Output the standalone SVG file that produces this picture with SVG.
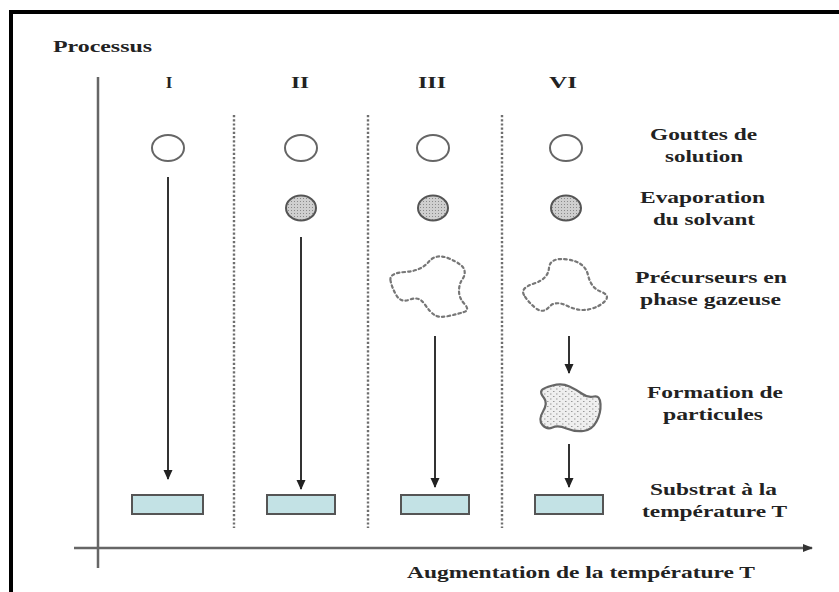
<svg xmlns="http://www.w3.org/2000/svg" width="839" height="592" viewBox="0 0 839 592">
<style>
.t{font-family:"Liberation Serif","Times New Roman",serif;font-weight:bold;font-size:16px;fill:#222}
.num{font-family:"Liberation Serif","Times New Roman",serif;font-weight:bold;font-size:17px;fill:#222;text-anchor:middle}
.drop{fill:none;stroke:#666;stroke-width:2}
.evap{fill:url(#dots);stroke:#555;stroke-width:2}
.gas{fill:none;stroke:#777;stroke-width:2.2;stroke-dasharray:2.5 3;stroke-linecap:round}
.part{fill:url(#pdots);stroke:#666;stroke-width:2.2}
.sub{fill:#c3e2e5;stroke:#555;stroke-width:2}
.sep{stroke:#6f6f6f;stroke-width:2.4;stroke-dasharray:2.2 2}
.arr{stroke:#333;stroke-width:2;fill:none;marker-end:url(#ah)}
.axis{stroke:#666;stroke-width:2.5;fill:none}
</style>
<defs>
<pattern id="dots" width="3" height="3" patternUnits="userSpaceOnUse">
<rect width="3" height="3" fill="#cfcfcf"/>
<rect width="1" height="1" fill="#8a8a8a"/>
</pattern>
<pattern id="pdots" width="6" height="5" patternUnits="userSpaceOnUse">
<rect width="6" height="5" fill="#efefef"/>
<rect x="1" y="1" width="1.5" height="1" fill="#999"/>
<rect x="4" y="3.5" width="1.5" height="1" fill="#999"/>
</pattern>
<marker id="ah" markerUnits="userSpaceOnUse" markerWidth="10" markerHeight="10" viewBox="0 0 10 10" refX="9" refY="5" orient="auto">
<path d="M0,0.5 L10,5 L0,9.5 Z" fill="#222"/>
</marker>
<marker id="axh" markerUnits="userSpaceOnUse" markerWidth="10" markerHeight="10" viewBox="0 0 10 10" refX="9" refY="5" orient="auto">
<path d="M0,1 L10,5 L0,9 Z" fill="#333"/>
</marker>
</defs>
<rect width="839" height="592" fill="#ffffff"/>
<rect x="9" y="10" width="830" height="4" fill="#000"/>
<rect x="9" y="10" width="4" height="582" fill="#000"/>

<g id="axes">
<line class="axis" x1="98" y1="77" x2="98" y2="568"/>
<line class="axis" x1="74" y1="548" x2="812" y2="548" marker-end="url(#axh)"/>
</g>

<g id="separators">
<line class="sep" x1="234" y1="115" x2="234" y2="528"/>
<line class="sep" x1="368" y1="115" x2="368" y2="528"/>
<line class="sep" x1="502" y1="115" x2="502" y2="528"/>
</g>

<g id="labels-top">
<text class="t" x="53" y="52" textLength="99" lengthAdjust="spacingAndGlyphs">Processus</text>
<text class="num" x="169" y="88">I</text>
<text class="num" x="300" y="88" textLength="18" lengthAdjust="spacingAndGlyphs">II</text>
<text class="num" x="432" y="88" textLength="28" lengthAdjust="spacingAndGlyphs">III</text>
<text class="num" x="563" y="88" textLength="28" lengthAdjust="spacingAndGlyphs">VI</text>
</g>

<g id="col-I">
<ellipse class="drop" cx="168" cy="148" rx="16" ry="13"/>
<rect class="sub" x="132" y="495" width="71" height="19"/>
</g>
<g id="col-II">
<ellipse class="drop" cx="301" cy="148" rx="16" ry="13"/>
<ellipse class="evap" cx="301" cy="208" rx="15" ry="12.5"/>
<rect class="sub" x="267" y="495" width="68" height="19"/>
</g>
<g id="col-III">
<ellipse class="drop" cx="433" cy="148" rx="16" ry="13"/>
<ellipse class="evap" cx="433" cy="208" rx="15" ry="12.5"/>
<path class="gas" d="M390.5,280.5 Q389,273 405,272 Q421,271 428.5,262 Q436,253 449,258.5 Q462,264 464,269 Q466,274 462.5,279 Q459,284 459,291 Q459,298 464.5,304 Q470,310 464,312 Q458,314 448.5,316 Q439,318 434.5,315 Q430,312 424.5,304 Q419,296 410,299.5 Q401,303 396.5,295.5 Q392,288 390.5,280.5 Z"/>
<rect class="sub" x="401" y="495" width="68" height="19"/>
</g>
<g id="col-VI">
<ellipse class="drop" cx="566" cy="148" rx="16" ry="13"/>
<ellipse class="evap" cx="566" cy="208" rx="15" ry="12.5"/>
<path class="gas" d="M524,295 Q520,288 534,283.5 Q548,279 549,268 Q550,257 567.5,259.5 Q585,262 588,275 Q591,288 600.5,291.5 Q610,295 605.5,300.5 Q601,306 590.5,309 Q580,312 567.5,306 Q555,300 549,307 Q543,314 535.5,308 Q528,302 524,295 Z"/>
<path class="part" d="M541.5,390.5 Q543,388 552.5,385.5 Q562,383 569.5,386.5 Q577,390 582.5,394 Q588,398 594,396.5 Q600,395 600.5,404 Q601,413 596.5,421.5 Q592,430 583.5,431 Q575,432 566.5,428.5 Q558,425 552.5,427.5 Q547,430 542.5,425 Q538,420 543,411.5 Q548,403 544,398 Q540,393 541.5,390.5 Z"/>
<rect class="sub" x="535" y="495" width="68" height="19"/>
</g>

<g id="connectors">
<line class="arr" x1="168" y1="177" x2="168" y2="479"/>
<line class="arr" x1="301" y1="237" x2="301" y2="489"/>
<line class="arr" x1="435" y1="336" x2="435" y2="487"/>
<line class="arr" x1="569" y1="336" x2="569" y2="373"/>
<line class="arr" x1="569" y1="444" x2="569" y2="487"/>
</g>

<g id="labels-right">
<text class="t" x="650" y="140" textLength="107" lengthAdjust="spacingAndGlyphs">Gouttes de</text>
<text class="t" x="665" y="162" textLength="78" lengthAdjust="spacingAndGlyphs">solution</text>
<text class="t" x="640" y="203" textLength="125" lengthAdjust="spacingAndGlyphs">Evaporation</text>
<text class="t" x="653" y="225" textLength="102" lengthAdjust="spacingAndGlyphs">du solvant</text>
<text class="t" x="635" y="283" textLength="152" lengthAdjust="spacingAndGlyphs">Précurseurs en</text>
<text class="t" x="640" y="305" textLength="141" lengthAdjust="spacingAndGlyphs">phase gazeuse</text>
<text class="t" x="647" y="398" textLength="136" lengthAdjust="spacingAndGlyphs">Formation de</text>
<text class="t" x="663" y="420" textLength="100" lengthAdjust="spacingAndGlyphs">particules</text>
<text class="t" x="650" y="495" textLength="127" lengthAdjust="spacingAndGlyphs">Substrat à la</text>
<text class="t" x="642" y="517" textLength="145" lengthAdjust="spacingAndGlyphs">température T</text>
<text class="t" x="407" y="578" textLength="348" lengthAdjust="spacingAndGlyphs">Augmentation de la température T</text>
</g>
</svg>
